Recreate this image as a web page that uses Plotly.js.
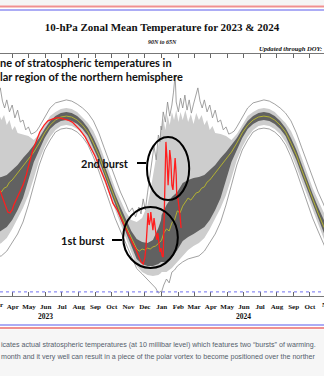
<!DOCTYPE html>
<html><head><meta charset="utf-8">
<script src="https://cdn.plot.ly/plotly-3.0.1.min.js"></script>
<style>html,body{margin:0;padding:0;background:#fff;overflow:hidden}#chart{width:324px;height:376px}</style>
</head><body><div id="chart"></div>
<script>
// ---- climatology (day of year -> temperature, K) ----
const climDoy = [1,10,20,30,40,50,60,70,80,90,100,110,120,130,140,150,160,170,180,190,200,210,220,230,240,250,260,270,280,290,300,310,320,330,340,350,360,365];
const meanDoy = [1,5,10,15,20,25,30,35,40,45,50,55,60,65,70,75,80,85,90,100,110,120,130,140,150,160,170,180,190,200,210,220,230,240,250,260,270,280,290,300,310,320,325,330,335,340,345,350,355,360,365];
const climMean = [193.0,195.3,196.7,196.0,198.7,199.7,202.7,202.0,204.3,205.7,207.0,206.3,207.7,208.7,209.0,210.3,210.7,212.3,213.0,215.3,217.7,219.7,222.3,225.3,228.7,231.3,233.0,234.0,234.3,234.0,233.0,231.3,229.0,225.3,221.3,216.3,211.3,206.7,202.0,197.7,193.7,190.0,189.3,190.0,189.7,190.3,190.0,190.7,191.0,191.7,192.7];
const darkHi = [201.3,204.7,207.3,209.0,212.0,213.0,213.7,214.0,214.7,216.3,218.0,220.3,222.3,224.7,227.0,230.0,232.7,234.3,235.3,235.7,235.3,234.3,232.7,230.3,227.0,223.0,218.0,213.0,208.3,204.0,199.7,196.0,193.3,192.3,192.0,193.0,197.0,199.7];
const darkLo = [185.7,185.7,187.0,189.7,192.7,194.0,195.0,196.0,197.3,199.7,203.0,207.0,213.0,219.0,223.0,227.0,230.0,231.7,232.7,233.0,232.7,231.7,230.0,227.7,223.7,219.7,214.7,209.7,205.0,200.0,195.7,191.0,186.7,185.0,184.3,184.3,185.0,185.7];
const lightHiDoy = [1,4,8,12,16,20,24,28,32,36,40,45,50,55,60,65,70,75,80,85,90,95,100,110,120,130,140,150,160,170,180,190,200,210,220,230,240,250,260,270,280,290,300,310,320,330,340,345,350,355,360,365];
const lightHi = [230.3,233.7,229.7,234.7,231.3,235.7,233.0,236.3,232.3,235.7,233.0,236.3,232.3,235.0,231.7,235.3,233.0,234.7,231.3,233.0,229.7,231.0,228.7,228.3,227.7,226.3,228.3,231.3,234.3,235.7,236.7,237.0,236.7,235.7,234.0,232.0,229.3,225.3,220.3,215.3,210.3,206.3,202.3,199.7,199.0,200.3,204.7,209.0,213.7,219.7,224.7,229.0];
const lightLo = [182.3,182.3,183.7,185.7,187.7,189.7,191.0,192.0,193.7,196.7,200.0,203.7,208.0,213.7,219.7,224.0,227.3,229.7,231.0,231.3,231.0,230.0,228.3,225.7,222.0,217.3,212.3,207.3,202.7,198.0,193.7,189.0,184.3,182.3,181.3,181.0,181.3,182.0];

const maxDoy = [1,4,8,12,16,20,23,26,28,32,36,40,44,48,52,56,60,64,68,72,76,80,85,90,95,100,105,110,115,120,125,130,135,140,150,160,170,180,190,200,210,220,230,240,250,260,270,280,290,300,306,312,318,324,328,332,336,340,344,348,352,356,360,363,365];
const recMax = [229.7,235.7,232.3,239.0,234.3,238.0,242.3,248.0,239.0,235.7,240.3,237.0,241.3,236.3,239.7,235.3,238.3,241.0,243.7,239.3,237.0,239.7,235.7,238.0,233.7,236.3,232.3,233.0,229.7,230.7,228.3,228.7,229.3,230.7,234.0,237.0,238.7,239.3,239.7,239.3,238.3,237.0,235.3,232.7,228.7,223.7,218.7,213.7,209.0,205.0,202.3,203.7,200.7,204.0,201.7,206.7,203.0,208.7,214.3,219.7,224.3,219.7,228.0,225.7,231.0];

const minDoy = [1,5,10,15,20,25,30,40,50,60,70,80,90,100,110,120,130,140,150,160,170,180,190,200,210,220,230,240,250,260,270,280,290,300,310,320,330,340,350,355,360,365];
const recMin = [175.7,178.0,180.0,178.7,182.3,183.0,184.3,185.7,186.7,187.3,187.7,189.3,192.0,195.0,199.0,204.7,211.3,218.0,223.0,226.3,229.0,230.0,230.3,230.0,229.0,227.3,224.7,220.7,216.0,210.7,205.3,200.3,196.0,192.0,188.0,183.5,181.7,179.7,178.0,177.0,175.3,176.0];

// ---- observed 2023/24 ----
const obsDates = ['2023-03-08','2023-03-12','2023-03-16','2023-03-20','2023-03-23','2023-03-27','2023-03-31','2023-04-03','2023-04-07','2023-04-11','2023-04-14','2023-04-20','2023-04-26','2023-05-03','2023-05-08','2023-05-14','2023-05-21','2023-05-29','2023-06-05','2023-06-13','2023-06-20','2023-06-27','2023-07-05','2023-07-12','2023-07-20','2023-07-27','2023-08-03','2023-08-13','2023-08-22','2023-08-31','2023-09-09','2023-09-19','2023-09-28','2023-10-03','2023-10-11','2023-10-16','2023-10-22','2023-10-29','2023-11-04','2023-11-09','2023-11-15','2023-11-20','2023-11-24','2023-11-28','2023-12-01','2023-12-03','2023-12-05','2023-12-07','2023-12-09','2023-12-11','2023-12-12','2023-12-14','2023-12-16','2023-12-18','2023-12-20','2023-12-22','2023-12-23','2023-12-25','2023-12-27','2023-12-29','2023-12-31','2024-01-02','2024-01-04','2024-01-05','2024-01-07','2024-01-09','2024-01-11','2024-01-13','2024-01-15','2024-01-16','2024-01-18','2024-01-20','2024-01-22','2024-01-24','2024-01-26','2024-01-28','2024-01-29','2024-01-31','2024-02-02','2024-02-04','2024-02-06'];
const obsTemp = [209.7,207.7,205.3,203.7,202.3,202.0,203.0,204.7,206.3,207.7,209.0,211.3,214.7,219.7,223.0,225.7,229.0,231.3,232.7,233.3,233.7,233.7,233.3,233.0,232.3,231.0,229.7,227.3,224.3,221.0,217.0,212.7,208.0,205.3,203.0,201.0,198.7,196.3,193.7,191.7,189.7,187.3,185.7,185.0,187.0,190.3,195.7,202.0,198.0,199.7,202.3,199.0,196.3,200.3,197.7,194.3,193.0,195.3,191.3,189.0,190.3,187.7,187.3,194.7,213.0,225.7,220.3,211.3,218.0,223.0,219.7,211.3,209.7,217.0,220.3,214.7,208.0,207.0,204.7,201.3,197.0];

const years = [2023, 2024];
const yearLabels = ['2023', '2024'];
const yearLabelDates = ['2023-06-01', '2024-06-01'];
const edgeMonthLabels = ['Mar', 'Nov'];
const refLineK = 175.7;
const burstCircles = [
  {x0:'2023-10-22', x1:'2024-01-31', y0:183.7, y1:204.0},
  {x0:'2023-12-05', x1:'2024-02-21', y0:206.3, y1:227.3}
];

function toDate(yr, doy){ return new Date(Date.UTC(yr,0,doy)).toISOString().slice(0,10); }
function across(doys, vals){ const x=[],y=[]; years.forEach(yr=>doys.forEach((d,i)=>{x.push(toDate(yr,d)); y.push(vals[i]);})); return {x,y}; }
function band(hiDoy, hi, loDoy, lo, color){
  const a = across(hiDoy, hi), b = across(loDoy, lo);
  return {x:a.x.concat(b.x.slice().reverse()), y:a.y.concat(b.y.slice().reverse()), type:'scatter', mode:'lines', fill:'toself', fillcolor:color, line:{width:0}, hoverinfo:'skip'};
}
const m = across(meanDoy, climMean), mx = across(maxDoy, recMax), mn = across(minDoy, recMin);

const traces = [
  band(lightHiDoy, lightHi, climDoy, lightLo, '#cdcdcd'),
  band(climDoy, darkHi, climDoy, darkLo, '#616161'),
  {x:mx.x, y:mx.y, type:'scatter', mode:'lines', line:{color:'#8a8a8a', width:0.8}},
  {x:mn.x, y:mn.y, type:'scatter', mode:'lines', line:{color:'#8a8a8a', width:0.8}},
  {x:m.x, y:m.y, type:'scatter', mode:'lines', line:{color:'#b3b232', width:1}},
  {x:obsDates, y:obsTemp, type:'scatter', mode:'lines', line:{color:'#ff1e1e', width:1.3}}
];

const serif = 'Liberation Serif, Times New Roman, serif';
const sans = 'Lato, Liberation Sans, sans-serif';
const P = py => (296 - py) / 242;

const shapes = [
  {type:'rect', xref:'paper', yref:'paper', x0:0, x1:1, y0:P(5.5), y1:P(0), fillcolor:'#f5f5f5', line:{width:0}},
  {type:'line', xref:'paper', yref:'paper', x0:0, x1:1, y0:P(6.5), y1:P(6.5), line:{color:'#f09090', width:2}},
  {type:'line', xref:'paper', yref:'paper', x0:0, x1:1, y0:P(10), y1:P(10), line:{color:'#9090f2', width:1.5}},
  {type:'line', xref:'paper', yref:'paper', x0:0, x1:1, y0:P(325), y1:P(325), line:{color:'#9090f2', width:1.5}},
  {type:'line', xref:'paper', yref:'paper', x0:0, x1:1, y0:P(328), y1:P(328), line:{color:'#f09090', width:2}},
  {type:'rect', xref:'paper', yref:'paper', x0:0, x1:1, y0:P(376), y1:P(329.5), fillcolor:'#f6f6f6', line:{width:0}},
  {type:'line', xref:'paper', yref:'y', x0:0, x1:1, y0:refLineK, y1:refLineK, line:{color:'#7070f0', width:1, dash:'dot'}},
  {type:'line', xref:'paper', yref:'paper', x0:112/324, x1:122/324, y0:P(240), y1:P(240), line:{color:'#000', width:2}},
  {type:'line', xref:'paper', yref:'paper', x0:137/324, x1:146/324, y0:P(163), y1:P(163), line:{color:'#000', width:2}}
].concat(burstCircles.map(c=>({type:'circle', xref:'x', yref:'y', x0:c.x0, x1:c.x1, y0:c.y0, y1:c.y1, line:{color:'#000', width:2}})));

const tickFont = {family:serif, size:7, weight:'bold', color:'#111'};
const ann = (text, x, y, xanchor, font) => ({text, x, y, xref:'paper', yref:'paper', xanchor, yanchor:'middle', showarrow:false, font});
const annotations = [
  ann('90N to 65N', 0.5, P(42), 'center', {family:serif, size:6, weight:'bold', style:'italic', color:'#111'}),
  ann('Updated through DOY:', 257/324, P(48), 'left', {family:serif, size:6.6, weight:'bold', style:'italic', color:'#111'}),
  ann('ne of stratospheric temperatures in', -0.006, P(62), 'left', {family:sans, size:11, weight:'bold', color:'#111'}),
  ann('lar region of the northern hemisphere', -0.006, P(76), 'left', {family:sans, size:11, weight:'bold', color:'#111'}),
  ann('2nd burst', 131/324, P(163), 'right', {family:sans, size:11, weight:'bold', color:'#111'}),
  ann('1st burst', 107/324, P(240), 'right', {family:sans, size:11, weight:'bold', color:'#111'}),
  ann('icates actual stratospheric temperatures (at 10 millibar level) which features two “bursts” of warming.', -0.003, P(345), 'left', {family:'Liberation Sans, sans-serif', size:7.1, color:'#55606c'}),
  ann('month and it very well can result in a piece of the polar vortex to become positioned over the norther', -0.003, P(357), 'left', {family:'Liberation Sans, sans-serif', size:7.1, color:'#55606c'}),
  ann(edgeMonthLabels[0], -4/324, P(305), 'center', tickFont),
  ann(edgeMonthLabels[1], 328/324, P(305), 'center', tickFont)
].concat(yearLabels.map((t,i)=>({text:t, x:yearLabelDates[i], xref:'x', y:P(316), yref:'paper', showarrow:false, yanchor:'middle', font:{family:serif, size:7.5, weight:'bold', color:'#111'}})));

const layout = {
  width:324, height:376,
  margin:{l:0, r:0, t:54, b:80, pad:0},
  paper_bgcolor:'#fff', plot_bgcolor:'#fff',
  showlegend:false,
  title:{text:'10-hPa Zonal Mean Temperature for 2023 &amp; 2024', x:0.5, xanchor:'center', xref:'paper', y:1-27/376, yref:'container', yanchor:'middle', font:{family:serif, size:11, weight:'bold', color:'#111'}},
  xaxis:{type:'date', range:['2023-03-08 12:00','2024-10-27'], dtick:'M1', tick0:'2023-01-01', tickformat:'%b', ticks:'inside', ticklen:4, tickcolor:'#666', tickwidth:1, showline:true, linecolor:'#777', linewidth:1, mirror:'ticks', showgrid:false, zeroline:false, ticklabelstandoff:4, tickfont:tickFont},
  yaxis:{range:[174.333, 255], showgrid:false, zeroline:false, showticklabels:false, ticks:'', showline:false},
  shapes, annotations
};
Plotly.newPlot('chart', traces, layout, {staticPlot:true, displayModeBar:false});
</script>
</body></html>
